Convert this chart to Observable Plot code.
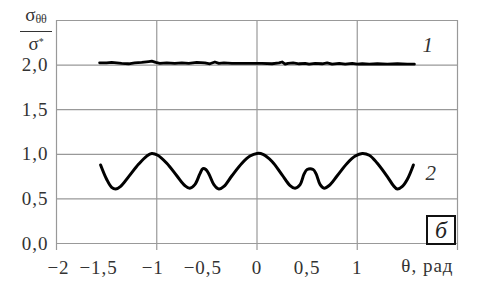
<!DOCTYPE html>
<html><head><meta charset="utf-8">
<script src="https://cdn.jsdelivr.net/npm/d3@7"></script>
<script src="https://cdn.jsdelivr.net/npm/@observablehq/plot@0.6"></script>
<style>
body{margin:0;background:#fff;}
#wrap{position:relative;width:485px;height:303px;font-family:"Liberation Serif","Times New Roman",serif;color:#333;}
#wrap svg text{font-family:"Liberation Serif","Times New Roman",serif;}
.ylab{position:absolute;left:20px;top:6px;width:32px;text-align:center;font-size:19px;line-height:17px;}
.ylab .num{display:block;border-bottom:1px solid #333;padding-bottom:3px;margin-bottom:1px;}
.ylab sub{font-size:12px;vertical-align:-2px;}
.ylab sup{font-size:10px;vertical-align:5px;}
.box{position:absolute;left:426px;top:215px;width:30px;height:30px;box-sizing:border-box;border:2px solid #111;background:#fff;font-style:italic;font-size:24px;line-height:26px;text-align:center;color:#222;}
</style></head>
<body><div id="wrap"></div>
<script>
// Curve 1 (upper, nearly constant)
const theta1 = [-1.57,-1.50,-1.45,-1.40,-1.35,-1.28,-1.22,-1.15,-1.08,-1.05,-1.01,-0.97,-0.90,-0.82,-0.75,-0.68,-0.60,-0.52,-0.47,-0.42,-0.38,-0.33,-0.25,-0.15,-0.05,0.05,0.15,0.22,0.25,0.28,0.31,0.36,0.42,0.48,0.52,0.58,0.65,0.70,0.75,0.82,0.88,0.95,1.00,1.05,1.12,1.20,1.30,1.40,1.50,1.57];
const sigma1 = [2.025,2.025,2.03,2.025,2.02,2.015,2.025,2.03,2.04,2.045,2.03,2.02,2.025,2.02,2.025,2.02,2.03,2.025,2.015,2.035,2.02,2.025,2.02,2.02,2.02,2.02,2.015,2.025,2.035,2.01,2.02,2.025,2.015,2.02,2.01,2.02,2.015,2.025,2.01,2.02,2.01,2.02,2.01,2.015,2.01,2.015,2.01,2.015,2.01,2.01];
// Curve 2 (lower, oscillating)
const theta2 = [-1.56,-1.50,-1.45,-1.41,-1.36,-1.28,-1.18,-1.10,-1.05,-0.99,-0.90,-0.80,-0.72,-0.67,-0.62,-0.57,-0.54,-0.51,-0.48,-0.43,-0.38,-0.33,-0.25,-0.15,-0.07,0.00,0.06,0.15,0.25,0.33,0.38,0.43,0.47,0.50,0.56,0.59,0.63,0.67,0.72,0.80,0.90,0.98,1.05,1.12,1.20,1.30,1.36,1.40,1.45,1.50,1.56];
const sigma2 = [0.88,0.72,0.63,0.61,0.64,0.75,0.89,0.98,1.01,0.99,0.90,0.76,0.65,0.62,0.66,0.78,0.84,0.83,0.78,0.66,0.61,0.64,0.76,0.90,0.98,1.01,1.00,0.92,0.77,0.65,0.62,0.66,0.78,0.83,0.83,0.78,0.66,0.62,0.65,0.76,0.90,0.98,1.01,0.99,0.90,0.75,0.65,0.61,0.64,0.72,0.88];
const xTickMarks = [-2,-1,0,1,2];
const xLabelsA = [-2];
const xLabelsB = [-1.5];
const xLabelsC = [-1,-0.5];
const xLabelsPos = [0,0.5,1];
const yTicks = [0,0.5,1,1.5,2];
const yGrid = [0,0.5,1,1.5,2,2.5];
const seriesLabels = ["1","2"];
const xUnit = "θ, рад";

const s1 = theta1.map((t,i)=>({t, v:sigma1[i]}));
const s2 = theta2.map((t,i)=>({t, v:sigma2[i]}));
const fmt = d => d.toString().replace(".", ",").replace("-", "−");
const fmtY = d => d.toFixed(1).replace(".", ",");
const gridStyle = {stroke:"#999", strokeOpacity:1, strokeWidth:1.2};
const lab = {tickSize:0, tickPadding:17, tickFormat:fmt, label:null};

const chart = Plot.plot({
  width:485, height:303,
  marginLeft:56, marginRight:28, marginTop:20, marginBottom:60,
  x:{domain:[-2,2]}, y:{domain:[0,2.5]},
  style:'font-family:"Liberation Serif","Times New Roman",serif;font-size:19px;color:#333;background:#fff;letter-spacing:1px;',
  marks:[
    Plot.gridY(yGrid, gridStyle),
    Plot.gridX(xTickMarks, gridStyle),
    Plot.axisX(xTickMarks, {tickSize:7, stroke:"#999", strokeWidth:1.2, tickFormat:()=>"", label:null}),
    Plot.axisX(xLabelsA, {...lab, dx:2}),
    Plot.axisX(xLabelsB, {...lab, dx:-8}),
    Plot.axisX(xLabelsC, {...lab, dx:-4}),
    Plot.axisX(xLabelsPos, lab),
    Plot.axisY(yTicks, {tickSize:0, tickPadding:8, tickFormat:fmtY, label:null}),
    Plot.text([xUnit], {frameAnchor:"bottom-right", textAnchor:"end", dx:-4, dy:28, fontSize:19}),
    Plot.line(s1, {x:"t", y:"v", stroke:"#000", strokeWidth:2.8}),
    Plot.line(s2, {x:"t", y:"v", stroke:"#000", strokeWidth:3, curve:"catmull-rom"}),
    Plot.text([s1[s1.length-1]], {x:"t", y:"v", text:()=>seriesLabels[0], dx:8, dy:-19, textAnchor:"start", fontStyle:"italic", fontSize:21}),
    Plot.text([s2[s2.length-1]], {x:"t", y:"v", text:()=>seriesLabels[1], dx:12, dy:8, textAnchor:"start", fontStyle:"italic", fontSize:21})
  ]
});
const wrap = document.getElementById("wrap");
wrap.appendChild(chart);
const yl = document.createElement("div");
yl.className = "ylab";
yl.innerHTML = '<span class="num">σ<sub>θθ</sub></span><span>σ<sup>*</sup></span>';
wrap.appendChild(yl);
const bx = document.createElement("div");
bx.className = "box";
bx.textContent = "б";
wrap.appendChild(bx);
</script></body></html>
